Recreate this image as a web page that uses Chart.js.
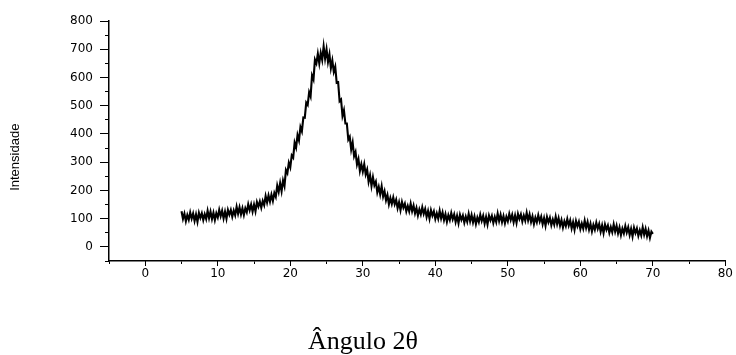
<!DOCTYPE html>
<html>
<head>
<meta charset="utf-8">
<script src="https://cdn.jsdelivr.net/npm/chart.js@4.4.0/dist/chart.umd.min.js"></script>
<style>
html, body { margin: 0; padding: 0; background: #fff; }
</style>
</head>
<body>
<canvas id="xrd" width="736" height="355"></canvas>
<script>
// scan from 5 to 70 deg, read every 0.2 deg (one row per degree)
const startAngle = 5;
const stepAngle = 0.2;
const intensity = [
  [126, 99, 118, 91, 113],    // 5
  [96, 122, 100, 118, 92],
  [115, 89, 121, 103, 119],
  [95, 116, 99, 128, 102],
  [125, 99, 121, 95, 119],
  [104, 131, 109, 128, 101],  // 10
  [125, 100, 131, 114, 131],
  [107, 129, 112, 142, 117],
  [140, 115, 137, 113, 137],
  [123, 151, 130, 150, 125],
  [150, 126, 159, 143, 161],  // 15
  [139, 163, 148, 180, 157],
  [182, 160, 185, 163, 191],
  [177, 217, 195, 226, 197],
  [235, 215, 272, 261, 298],
  [282, 324, 316, 369, 352],  // 20
  [396, 377, 424, 409, 458],
  [457, 511, 503, 548, 533],
  [607, 593, 663, 650, 684],
  [650, 687, 662, 710, 667],
  [700, 655, 682, 633, 660],  // 25
  [620, 638, 581, 583, 516],
  [522, 464, 484, 437, 437],
  [380, 390, 345, 370, 321],
  [336, 292, 311, 269, 293],
  [267, 293, 257, 274, 231],  // 30
  [254, 216, 247, 218, 231],
  [193, 213, 186, 215, 178],
  [197, 165, 184, 151, 173],
  [152, 175, 151, 167, 137],
  [158, 130, 159, 139, 153],  // 35
  [126, 145, 126, 153, 126],
  [146, 119, 138, 111, 133],
  [115, 140, 117, 134, 106],
  [127, 100, 130, 111, 126],
  [99, 119, 100, 128, 101],   // 40
  [122, 95, 116, 89, 112],
  [95, 120, 98, 115, 88],
  [110, 84, 114, 96, 111],
  [86, 107, 89, 117, 91],
  [113, 87, 108, 81, 104],    // 45
  [88, 114, 92, 110, 83],
  [106, 80, 111, 94, 110],
  [85, 106, 88, 118, 92],
  [114, 88, 109, 84, 107],
  [91, 117, 96, 114, 87],     // 50
  [111, 85, 117, 99, 115],
  [90, 111, 93, 121, 94],
  [115, 88, 108, 81, 104],
  [87, 112, 90, 107, 80],
  [102, 75, 106, 87, 103],    // 55
  [77, 97, 79, 107, 81],
  [102, 75, 95, 69, 91],
  [74, 99, 76, 94, 66],
  [88, 61, 92, 73, 89],
  [63, 83, 65, 93, 67],       // 60
  [88, 61, 82, 55, 78],
  [61, 86, 64, 81, 54],
  [76, 49, 79, 61, 76],
  [50, 70, 52, 80, 54],
  [75, 48, 69, 42, 65],       // 65
  [48, 74, 51, 69, 42],
  [64, 37, 68, 49, 65],
  [39, 59, 41, 69, 43],
  [64, 38, 58, 32, 54],
  [46]                        // 70
];
const xTicks = [0, 10, 20, 30, 40, 50, 60, 70, 80];
const yTicks = [0, 100, 200, 300, 400, 500, 600, 700, 800];

const points = [];
intensity.flat().forEach((v, i) => {
  points.push({ x: startAngle + i * stepAngle, y: v });
});

const tickFont = { family: 'DejaVu Sans', size: 12 };

new Chart(document.getElementById('xrd'), {
  type: 'line',
  data: {
    datasets: [{
      data: points,
      borderColor: '#000',
      borderWidth: 2.1,
      pointRadius: 0,
      tension: 0,
      fill: false
    }]
  },
  options: {
    responsive: false,
    animation: false,
    devicePixelRatio: 1,
    layout: { padding: { top: 21, right: 10, left: 0, bottom: 0 } },
    plugins: {
      legend: { display: false },
      tooltip: { enabled: false },
      title: {
        display: true,
        position: 'bottom',
        text: 'Ângulo 2θ',
        color: '#000',
        font: { family: 'Liberation Serif', size: 26, weight: 'normal', lineHeight: 1 },
        padding: { top: 38, bottom: 0 }
      }
    },
    scales: {
      x: {
        type: 'linear',
        min: -5,
        max: 80,
        ticks: {
          stepSize: 5,
          autoSkip: false,
          maxRotation: 0,
          padding: 3,
          color: '#000',
          font: tickFont,
          callback: v => xTicks.includes(v) ? v : ''
        },
        grid: { drawOnChartArea: false, tickLength: 3, tickColor: '#000' },
        border: { color: '#000', width: 1.5 },
        afterFit: s => { s.height = 30; }
      },
      xMajor: {
        type: 'linear',
        axis: 'x',
        min: -5,
        max: 80,
        position: { y: -50 },
        afterBuildTicks: s => { s.ticks = xTicks.map(v => ({ value: v })); },
        ticks: { display: false },
        grid: { drawOnChartArea: false, tickLength: 5, tickColor: '#000' },
        border: { display: false }
      },
      y: {
        type: 'linear',
        min: -50,
        max: 800,
        ticks: {
          stepSize: 50,
          autoSkip: false,
          padding: 12,
          color: '#000',
          font: tickFont,
          callback: v => yTicks.includes(v) ? v : ''
        },
        grid: { drawOnChartArea: false, tickLength: 4, tickColor: '#000' },
        border: { color: '#000', width: 1.5 },
        title: {
          display: true,
          text: 'Intensidade         ',
          color: '#000',
          font: { family: 'Liberation Sans', size: 13 },
          padding: { top: 8, bottom: 0 }
        },
        afterFit: s => { s.width = 109; }
      },
      yMajor: {
        type: 'linear',
        axis: 'y',
        min: -50,
        max: 800,
        position: { x: -5 },
        afterBuildTicks: s => { s.ticks = yTicks.map(v => ({ value: v })); },
        ticks: { display: false },
        grid: { drawOnChartArea: false, tickLength: 9, tickColor: '#000' },
        border: { display: false }
      }
    }
  }
});
</script>
</body>
</html>
